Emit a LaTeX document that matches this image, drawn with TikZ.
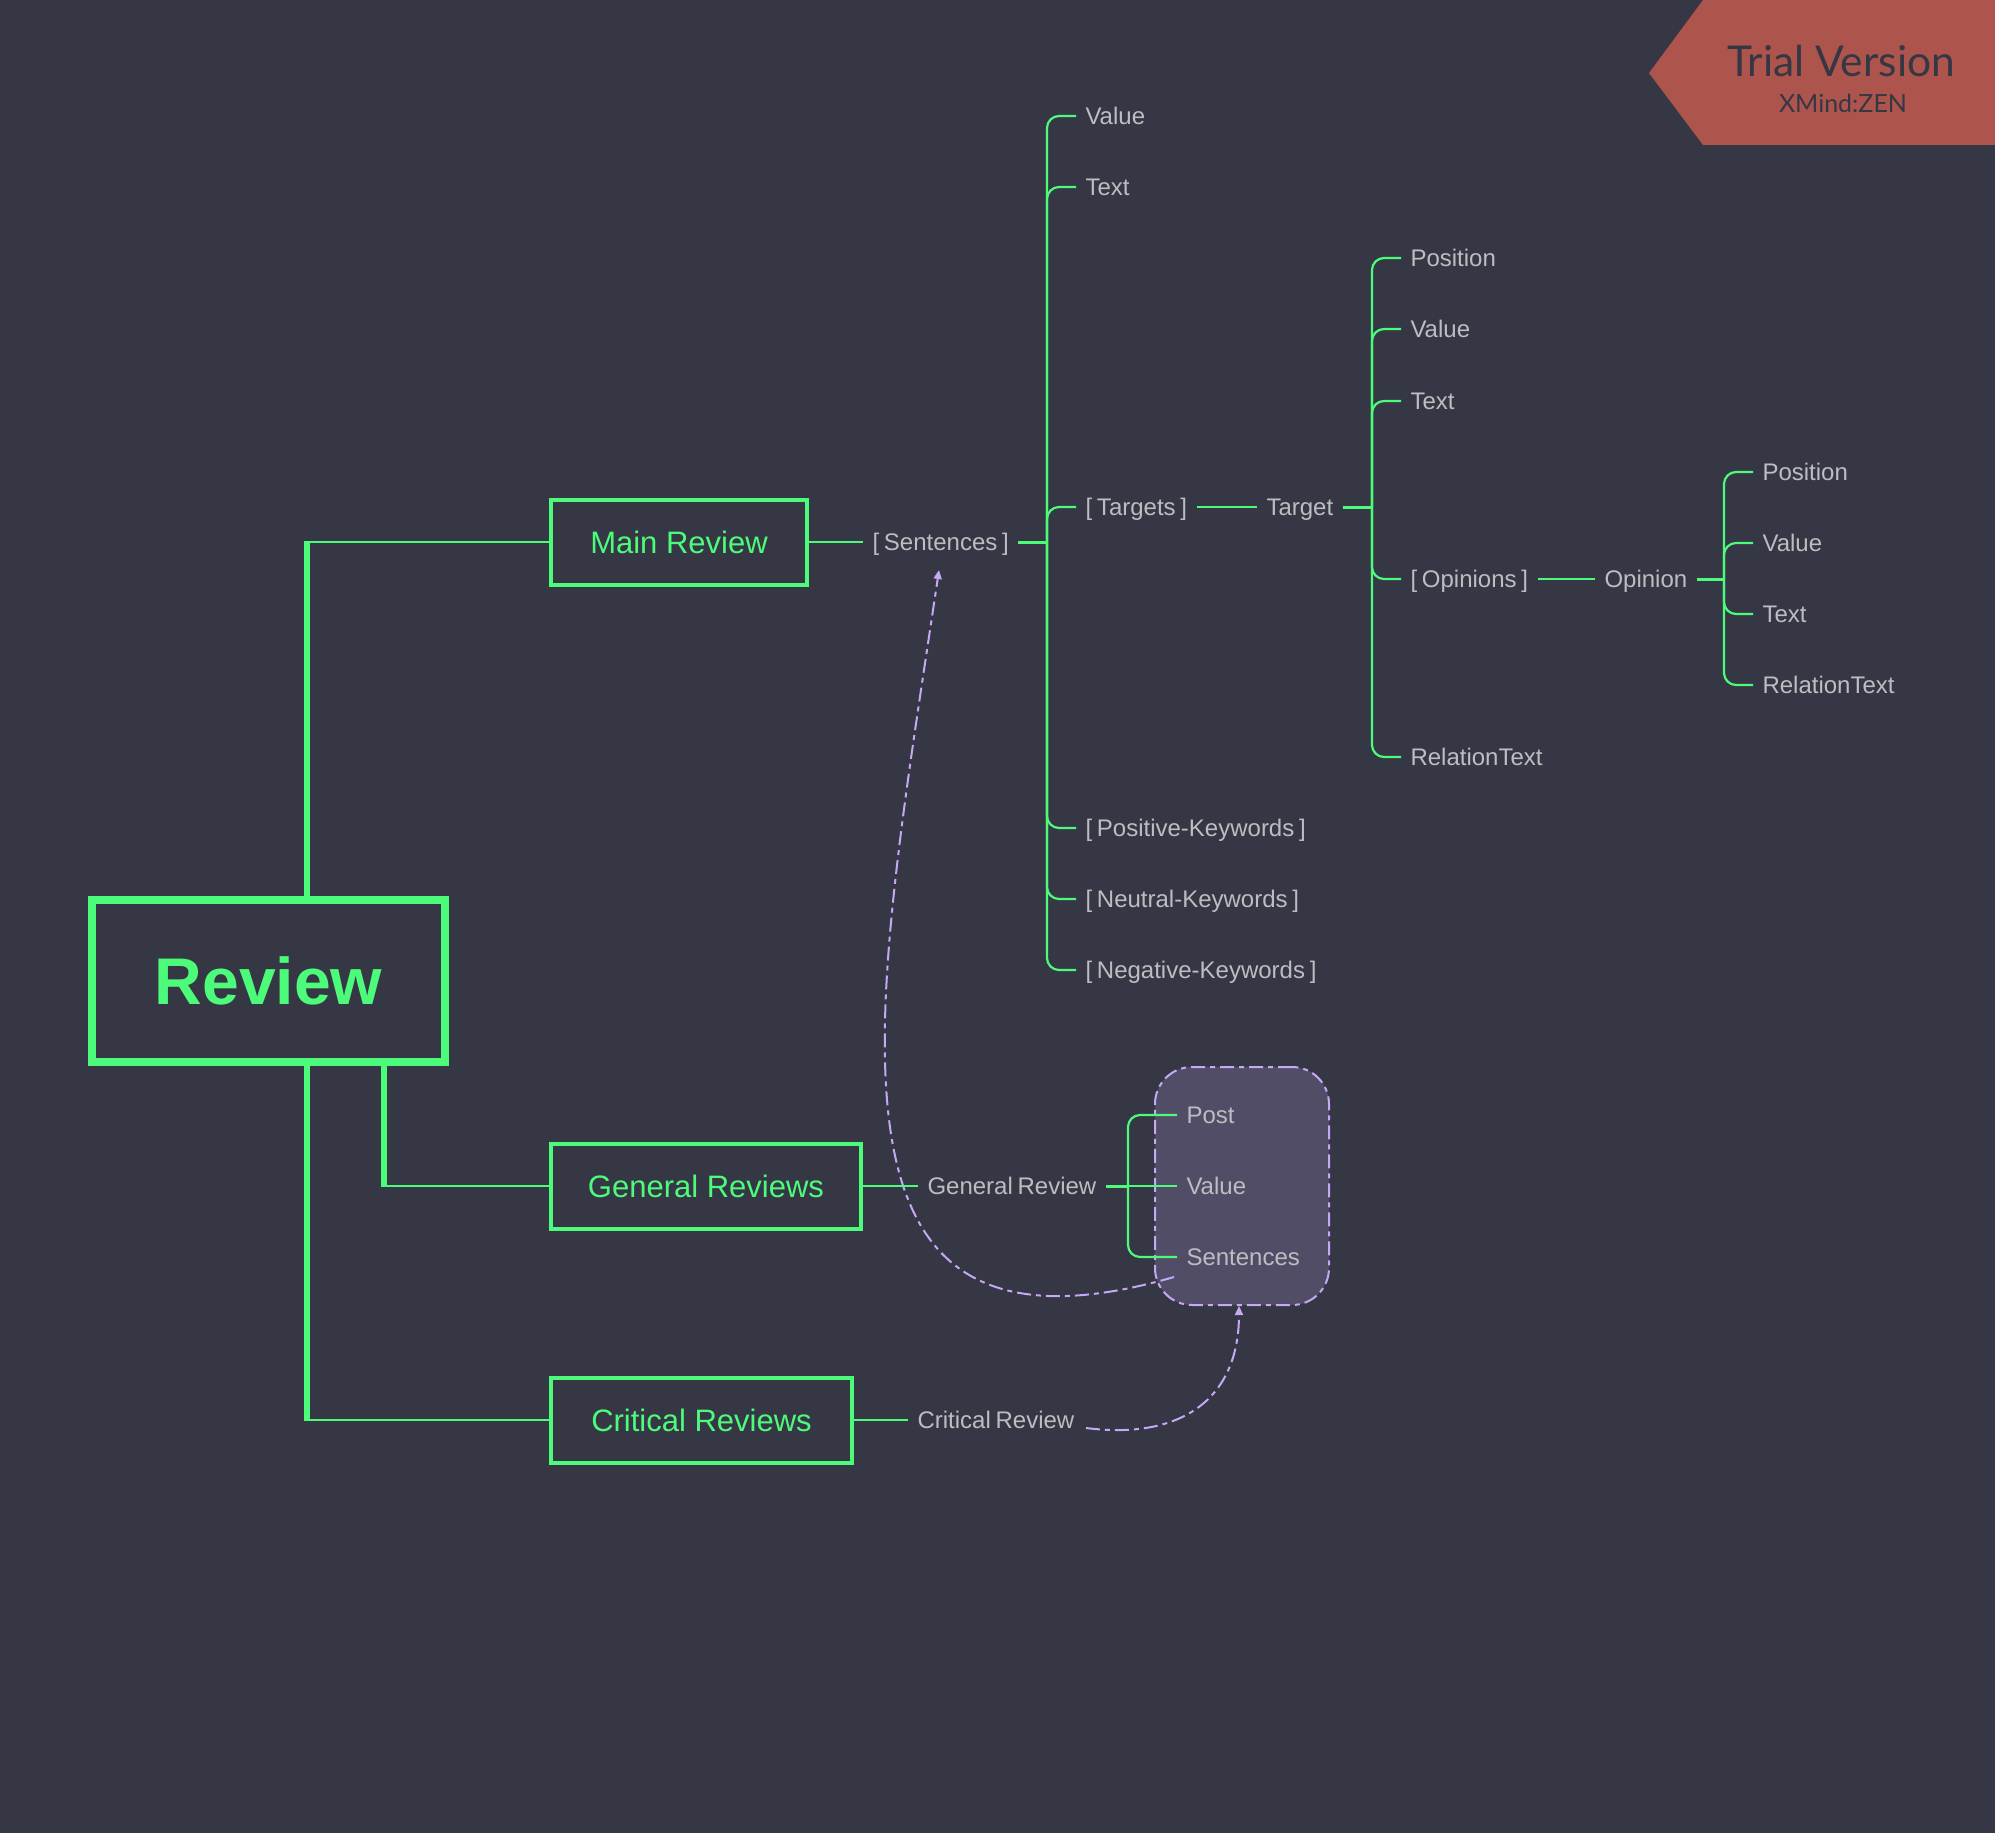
\documentclass[tikz,border=0pt]{standalone}
\usepackage{fontspec}
\setmainfont{Liberation Sans}
\newfontfamily\bannerfont{Lato}
\usetikzlibrary{arrows.meta}
\definecolor{bgc}{HTML}{353744}
\definecolor{grn}{HTML}{4DFB7B}
\definecolor{lbl}{HTML}{BDBDC1}
\definecolor{pur}{HTML}{C6A8F5}
\definecolor{grp}{HTML}{524D67}
\definecolor{ban}{HTML}{AD544C}
\newcommand{\leaffont}{\fontsize{24}{30}\selectfont\spaceskip=0.2em\relax}
\tikzset{
	leaf/.style={anchor=west, text=lbl, font=\leaffont, inner xsep=9.5pt, inner ysep=0pt, outer sep=0pt, text height=17.5pt, text depth=0pt},
	topic/.style={draw=grn, line width=4pt, text=grn, anchor=west, font=\fontsize{31}{36}\selectfont, minimum height=85pt, align=center, outer sep=0pt},
	twig/.style={grn, line width=2.2pt},
	bough/.style={twig, rounded corners=12pt},
	stub/.style={grn, line width=3pt},
	trunk/.style={grn, line width=6pt, shorten >=-1.1pt},
	rel/.style={pur, line width=2pt, dash pattern=on 14pt off 5pt on 5pt off 5pt, -{Triangle[length=9pt,width=8pt,fill=pur]}}
}
\begin{document}
\begin{tikzpicture}[x=1pt, y=-1pt]
	\fill[bgc] (0,0) rectangle (1995,1833);
	\useasboundingbox (0,0) rectangle (1995,1833);
	% banner
	\fill[ban] (1703,0) -- (1649,73) -- (1703,145) -- (1995,145) -- (1995,0) -- cycle;
	\node (trial) at (1841,61) {\bannerfont\fontsize{42.5}{46}\selectfont\color{bgc}Trial Version};
	\node (zen) at (1843,103) {\bannerfont\fontsize{25}{28}\selectfont\color{bgc}XMind:ZEN};
	% group behind the leaves
	\node[draw=pur, fill=grp, line width=2pt, rounded corners=37pt, dash pattern=on 14pt off 5pt on 5pt off 5pt, minimum width=174pt, minimum height=238pt] (grpbox) at (1242,1186) {};
	% topics
	\node[draw=grn, line width=8pt, text=grn, font=\fontsize{66}{70}\bfseries\selectfont, minimum width=353pt, minimum height=162pt] (rev) at (268.5,981) {Review};
	\node[topic, minimum width=256pt] (mr) at (551,542) {Main Review};
	\node[topic, minimum width=310pt] (gr) at (551,1186) {General Reviews};
	\node[topic, minimum width=301pt] (cr) at (551,1420) {Critical Reviews};
	% first level
	\node[leaf] (sn) at (863,542) {[ Sentences ]};
	\node[leaf] (grv) at (918,1186) {General Review};
	\node[leaf] (crv) at (908,1420) {Critical Review};
	% under sentences
	\node[leaf] (val) at (1076,116) {Value};
	\node[leaf] (txt) at (1076,187) {Text};
	\node[leaf] (tgs) at (1076,507) {[ Targets ]};
	\node[leaf] (pos) at (1076,828) {[ Positive-Keywords ]};
	\node[leaf] (neu) at (1076,899) {[ Neutral-Keywords ]};
	\node[leaf] (neg) at (1076,970) {[ Negative-Keywords ]};
	% under target
	\node[leaf] (tg) at (1257,507) {Target};
	\node[leaf] (tpos) at (1401,258) {Position};
	\node[leaf] (tval) at (1401,329) {Value};
	\node[leaf] (ttxt) at (1401,401) {Text};
	\node[leaf] (ops) at (1401,579) {[ Opinions ]};
	\node[leaf] (trel) at (1401,757) {RelationText};
	% under opinion
	\node[leaf] (op) at (1595,579) {Opinion};
	\node[leaf] (opos) at (1753,472) {Position};
	\node[leaf] (oval) at (1753,543) {Value};
	\node[leaf] (otxt) at (1753,614) {Text};
	\node[leaf] (orel) at (1753,685) {RelationText};
	% general review
	\node[leaf] (gpost) at (1177,1115) {Post};
	\node[leaf] (gval) at (1177,1186) {Value};
	\node[leaf] (gsen) at (1177,1257) {Sentences};
	% hubs and corners
	\coordinate (sh) at (1047,542);
	\coordinate (th) at (1372,507);
	\coordinate (oh) at (1724,579);
	\coordinate (gh) at (1128,1186);
	\coordinate (ra) at (307,900);
	\coordinate (rb) at (384,1062);
	\coordinate (rc) at (307,1062);
	\coordinate (ca) at (307,542);
	\coordinate (cb) at (384,1186);
	\coordinate (cc) at (307,1420);
	% relationships
	\coordinate (ga) at (1174,1277);
	\coordinate (gb) at (939,570);
	\coordinate (ka) at (1086,1428);
	\coordinate (kb) at (1239,1306);
	\draw[rel] (ga) .. controls (800,1385) and (872,1020) .. (gb);
	\draw[rel] (ka) .. controls (1180,1440) and (1239,1400) .. (kb);
	% root to topics
	\draw[trunk] (ra) -- (ca);
	\draw[trunk] (rb) -- (cb);
	\draw[trunk] (rc) -- (cc);
	\draw[twig] (ca) -- (mr);
	\draw[twig] (cb) -- (gr);
	\draw[twig] (cc) -- (cr);
	% topics to first level
	\draw[twig] (mr) -- (sn);
	\draw[twig] (gr) -- (grv);
	\draw[twig] (cr) -- (crv);
	% sentences
	\draw[stub] (sn) -- (sh);
	\draw[bough] (sh) |- (val.west);
	\draw[bough] (sh) |- (txt.west);
	\draw[bough] (sh) |- (tgs.west);
	\draw[bough] (sh) |- (pos.west);
	\draw[bough] (sh) |- (neu.west);
	\draw[bough] (sh) |- (neg.west);
	% target
	\draw[twig] (tgs) -- (tg);
	\draw[stub] (tg) -- (th);
	\draw[bough] (th) |- (tpos.west);
	\draw[bough] (th) |- (tval.west);
	\draw[bough] (th) |- (ttxt.west);
	\draw[bough] (th) |- (ops.west);
	\draw[bough] (th) |- (trel.west);
	% opinion
	\draw[twig] (ops) -- (op);
	\draw[stub] (op) -- (oh);
	\draw[bough] (oh) |- (opos.west);
	\draw[bough] (oh) |- (oval.west);
	\draw[bough] (oh) |- (otxt.west);
	\draw[bough] (oh) |- (orel.west);
	% general review
	\draw[stub] (grv) -- (gh);
	\draw[bough] (gh) |- (gpost.west);
	\draw[twig] (gh) -- (gval);
	\draw[bough] (gh) |- (gsen.west);
\end{tikzpicture}
\end{document}
